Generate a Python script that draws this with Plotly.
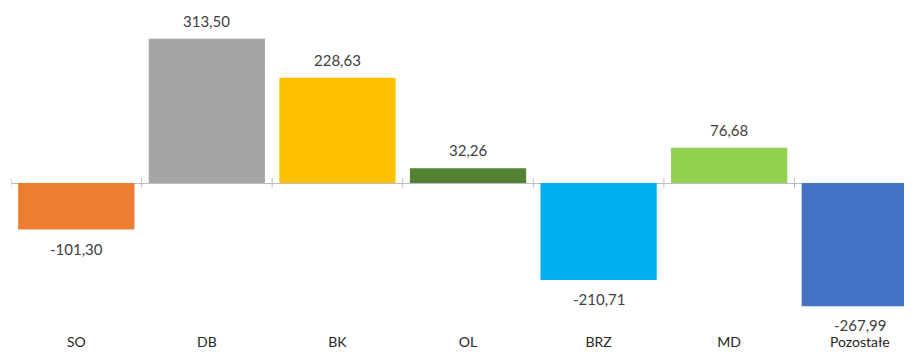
import plotly.graph_objects as go

categories = ["SO", "DB", "BK", "OL", "BRZ", "MD", "Pozostałe"]
values = [-101.30, 313.50, 228.63, 32.26, -210.71, 76.68, -267.99]
colors = ["#ED7D31", "#A5A5A5", "#FFC000", "#548235", "#00B0F0", "#92D050", "#4472C4"]

xs = list(range(len(categories)))
boundaries = [i - 0.5 for i in range(len(categories) + 1)]

def fmt(v):
    return f"{v:.2f}".replace(".", ",")

fig = go.Figure()
fig.add_trace(go.Bar(x=xs, y=values, marker=dict(color=colors, line=dict(width=0)),
                     showlegend=False, hoverinfo="skip"))
fig.add_trace(go.Scatter(x=boundaries, y=[0] * len(boundaries), mode="markers",
                         marker=dict(symbol="line-ns-open", size=7, color="#BFBFBF",
                                     line=dict(color="#BFBFBF", width=1)),
                         showlegend=False, hoverinfo="skip"))

annotations = []
for x, v in zip(xs, values):
    annotations.append(dict(x=x, y=v, text=fmt(v), showarrow=False,
                            yanchor="middle", yshift=18 if v >= 0 else -19,
                            font=dict(family="Lato", size=15, color="#404040")))

fig.update_layout(
    width=904, height=344,
    margin=dict(l=3, r=0, t=0, b=20),
    paper_bgcolor="white", plot_bgcolor="white",
    bargap=0.11,
    annotations=annotations,
    font=dict(family="Lato", size=14, color="#262626"),
    xaxis=dict(range=[-0.5, 6.40], tickvals=xs, ticktext=categories,
               showgrid=False, zeroline=False, showline=False, ticks="",
               tickfont=dict(family="Lato", size=14, color="#262626")),
    yaxis=dict(range=[-323.9, 380.4], showgrid=False, zeroline=True,
               zerolinecolor="#BFBFBF", zerolinewidth=1, showticklabels=False,
               showline=False, ticks=""),
)

fig.write_html("out.html")
